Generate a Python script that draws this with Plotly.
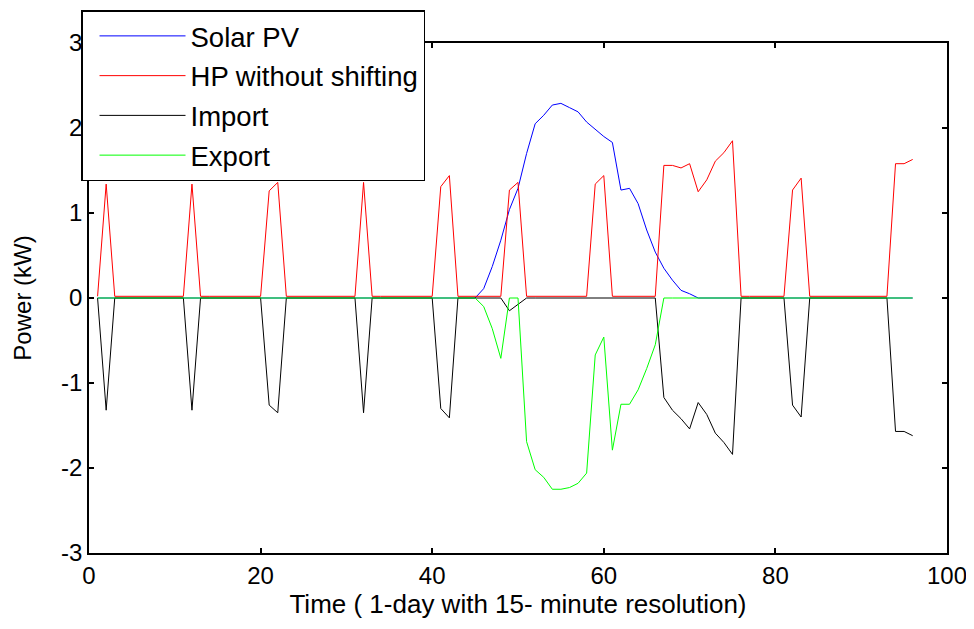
import plotly.graph_objects as go

t = list(range(1, 97))

solar_pv = [0]*45 + [0.11, 0.37, 0.68, 1.04, 1.29, 1.70, 2.05, 2.15, 2.27, 2.29,
                     2.24, 2.19, 2.07, 1.98, 1.90, 1.83, 1.27, 1.29, 1.11, 0.80,
                     0.54, 0.35, 0.21, 0.09, 0.05] + [0]*26

hp_without_shifting = [
    0.02, 1.34, 0.02, 0.02, 0.02, 0.02, 0.02, 0.02, 0.02, 0.02,
    0.02, 1.34, 0.02, 0.02, 0.02, 0.02, 0.02, 0.02, 0.02, 0.02,
    1.26, 1.36, 0.02, 0.02, 0.02, 0.02, 0.02, 0.02, 0.02, 0.02,
    0.02, 1.36, 0.02, 0.02, 0.02, 0.02, 0.02, 0.02, 0.02, 0.02,
    1.31, 1.44, 0.02, 0.02, 0.02, 0.02, 0.02, 0.02, 1.27, 1.36,
    0.02, 0.02, 0.02, 0.02, 0.02, 0.02, 0.02, 0.02, 1.34, 1.44,
    0.02, 0.02, 0.02, 0.02, 0.02, 0.02, 1.56, 1.56, 1.53, 1.58,
    1.25, 1.39, 1.61, 1.71, 1.85, 0.02, 0.02, 0.02, 0.02, 0.02,
    0.02, 1.27, 1.41, 0.02, 0.02, 0.02, 0.02, 0.02, 0.02, 0.02,
    0.02, 0.02, 0.02, 1.58, 1.58, 1.63]

grid_import = [
    0, -1.32, 0, 0, 0, 0, 0, 0, 0, 0,
    0, -1.32, 0, 0, 0, 0, 0, 0, 0, 0,
    -1.26, -1.35, 0, 0, 0, 0, 0, 0, 0, 0,
    0, -1.35, 0, 0, 0, 0, 0, 0, 0, 0,
    -1.30, -1.41, 0, 0, 0, 0, 0, 0, -0.15, -0.07,
    0, 0, 0, 0, 0, 0, 0, 0, 0, 0,
    0, 0, 0, 0, 0, 0, -1.17, -1.32, -1.42, -1.54,
    -1.23, -1.37, -1.59, -1.70, -1.84, 0, 0, 0, 0, 0,
    0, -1.26, -1.40, 0, 0, 0, 0, 0, 0, 0,
    0, 0, 0, -1.57, -1.57, -1.62]

grid_export = [0]*45 + [-0.10, -0.36, -0.71, 0, 0, -1.69, -2.02, -2.11, -2.25, -2.25,
                        -2.23, -2.18, -2.06, -0.67, -0.46, -1.79, -1.25, -1.25, -1.08, -0.83,
                        -0.55] + [0]*30

series_names = ["Solar PV", "HP without shifting", "Import", "Export"]
series_colors = ["#0000ff", "#ff0000", "#000000", "#00ff00"]
series_values = [solar_pv, hp_without_shifting, grid_import, grid_export]

x_ticks = [0, 20, 40, 60, 80, 100]
x_ticktext = ["0", "20", "40", "60", "80", "100"]
y_ticks = [-3, -2, -1, 0, 1, 2, 3]
y_ticktext = ["-3", "-2", "-1", "0", "1", "2", "3"]

FONT = "Liberation Sans, Arial, sans-serif"

fig = go.Figure()
for name, color, vals in zip(series_names, series_colors, series_values):
    fig.add_trace(go.Scatter(x=t, y=vals, mode="lines", name=name, legendgroup=name,
                             line=dict(color=color, width=1)))

axis_common = dict(showgrid=False, zeroline=False, showline=True, linecolor="black",
                   linewidth=1.5, mirror="ticks", ticks="inside", ticklen=5,
                   tickcolor="black", tickwidth=1.5, automargin=False,
                   tickfont=dict(family=FONT, size=24, color="black"))

fig.update_layout(
    width=966, height=621,
    margin=dict(l=81, r=27, t=35, b=76, autoexpand=False),
    paper_bgcolor="white", plot_bgcolor="white",
    font=dict(family=FONT, color="black"),
    xaxis=dict(range=[0, 100], tickvals=x_ticks, ticktext=x_ticktext,
               title=dict(text="Time ( 1-day with 15- minute resolution)",
                          font=dict(family=FONT, size=26), standoff=4),
               **axis_common),
    yaxis=dict(range=[-3, 3], tickvals=y_ticks, ticktext=y_ticktext,
               title=dict(text="Power (kW)", font=dict(family=FONT, size=24), standoff=23),
               **axis_common),
    legend=dict(x=-0.0093, y=1.0647, xanchor="left", yanchor="top",
                bgcolor="white", bordercolor="black", borderwidth=1.5,
                font=dict(family=FONT, size=27.5, color="black"),
                itemwidth=86, indentation=12, tracegroupgap=1,
                traceorder="grouped"),
    showlegend=True,
)

fig.write_html("out.html")
